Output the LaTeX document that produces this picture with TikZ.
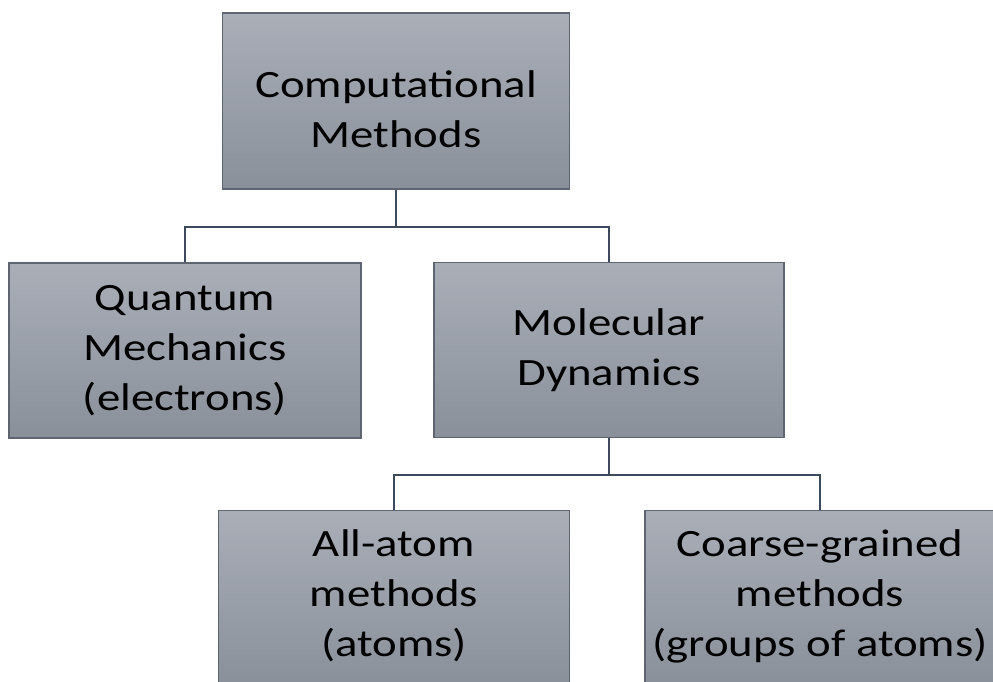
\documentclass[tikz,border=0pt]{standalone}
\usepackage{fontspec}
\setmainfont{Carlito}[FakeStretch=1.21]
\definecolor{boxtop}{HTML}{A9AEB7}
\definecolor{boxbot}{HTML}{8A909A}
\definecolor{boxline}{HTML}{5E6570}
\definecolor{conn}{HTML}{3C4A5C}
\begin{document}
\begin{tikzpicture}[x=0.75pt,y=-0.75pt,
  box/.style={draw=boxline,line width=0.8pt,top color=boxtop,bottom color=boxbot,
    minimum width=350*0.75pt,minimum height=175*0.75pt,inner sep=0pt},
  txt/.style={inner sep=0pt,align=center,font=\fontsize{29}{37.5}\selectfont,text=black},
  link/.style={draw=conn,line width=2pt}]
\useasboundingbox (0,0) rectangle (993,682);
\node[box,minimum width=347*0.75pt,minimum height=176*0.75pt] (cm) at (396,101) {};
\node[box,minimum width=352*0.75pt] (qm) at (185,350.5) {};
\node[box] (md) at (609,350) {};
\node[box,minimum width=351*0.75pt] (aa) at (394,598) {};
\node[box] (cg) at (820,598) {};
\node[txt] (cmt) at ([yshift=-6pt]cm.center) {Computational\\Methods};
\node[txt] (qmt) at (qm.center) {Quantum\\Mechanics\\(electrons)};
\node[txt] (mdt) at (md.center) {Molecular\\Dynamics};
\node[txt] (aat) at ([yshift=1.5pt]aa.center) {All-atom\\methods\\(atoms)};
\node[txt] (cgt) at ([yshift=1.5pt]cg.center) {Coarse-grained\\methods\\(groups of atoms)};
\coordinate (j1) at (396,227);
\coordinate (j2) at (609,475);
\draw[link] (cm.south) -- (j1);
\draw[link] (qm.north) |- (j1) -| (md.north);
\draw[link] (md.south) -- (j2);
\draw[link] (aa.north) |- (j2) -| (cg.north);
\end{tikzpicture}
\end{document}
